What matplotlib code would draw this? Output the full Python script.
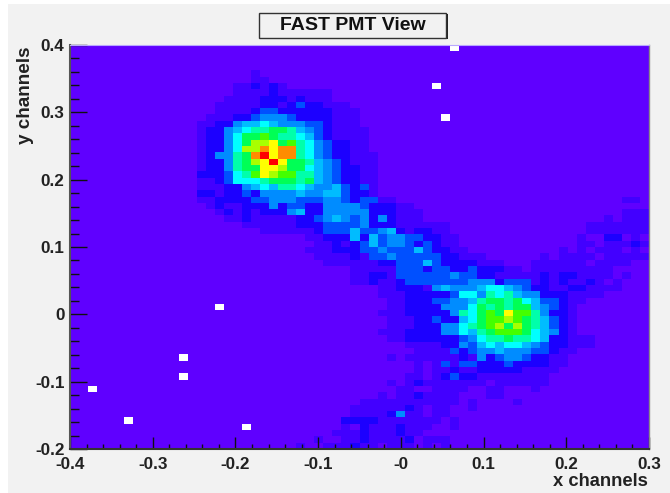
import numpy as np
import matplotlib
matplotlib.use('Agg')
import matplotlib.pyplot as plt
from matplotlib.colors import ListedColormap
from matplotlib.patches import Rectangle
from matplotlib.ticker import MultipleLocator

plt.rcParams['font.family'] = ['Liberation Sans', 'DejaVu Sans']
plt.rcParams['font.weight'] = 'bold'

# hist cells, top row first, hex level per bin, 0 = empty, short rows are padded with level 1
counts_rows = [
    "1111111111 1111111111 1111111111 1111111111 1101111111",
    "",
    "",
    "",
    "1111111111 1111111111 2111111111",
    "1111111111 1111111111 2211111111",
    "1111111111 1111111122 3232111111 1111111111 0111111111",
    "1111111111 1111111122 2232222221",
    "1111111111 1111111222 2333232221",
    "1111111111 1111112222 2332343322 2111111111",
    "1111111111 1111112222 3443333332 2211111111",
    "1111111111 1111122233 4555433332 2211111111 1011111111",
    "1111111111 1111223356 6765554432 2211111111",
    "1111111111 1111233567 8899865432 2221111111",
    "1111111111 1111233579 9A98876432 2221111111",
    "1111111111 1111233579 BBC9A87543 3221111111",
    "1111111111 111123357B BDCDD87543 3221111111",
    "1111111111 1111235589 DECDD87543 3222111111",
    "1111111111 1111233589 BCEC998654 3222111111",
    "1111111111 1111233589 9CCB997654 3322111111",
    "1111111111 1111333478 ACBAA88654 3322111111",
    "1111111111 1111223477 7899989654 3322111111",
    "1111111111 1111222335 6768876556 4342111111",
    "1111111111 1111332334 3555565566 4332111111",
    "1111111111 1111223333 4455544455 4344221111 1111111111 1111111111 1221",
    "1111111111 1111123223 3353443355 5543332211",
    "1111111111 1111112323 2333563355 5553332221 1111111111 1111111111 1222",
    "1111111111 1111111223 2222233456 5453532221 1111111111 1111111112 1222",
    "1111111111 1111111112 2222233344 4453332222 2211111111 1111111222 2222",
    "1111111111 1111111111 1222222344 4644563233 2211111111 1111111222 2222",
    "1111111111 1111111111 1111112233 3636455443 3221111111 1111112113 3121",
    "1111111111 1111111111 1111111223 2346455434 3221111111 1111112212 2232",
    "1111111111 1111111111 1111112223 3344544464 3322111111 1111212122 2121",
    "1111111111 1111111111 1111111222 2324454444 4332221111 1121222212 2222",
    "1111111111 1111111111 1111111122 2222334446 4333322211 1222222122 2211",
    "1111111111 1111111111 1111111111 1222224443 4433433322 1222222222 1111",
    "1111111111 1111111111 1111111111 1223324444 4454433222 2232332222 1211",
    "1111111111 1111111111 1111111111 1223223444 4444555344 4232322321 2111",
    "1111111111 1111111111 1111111111 1111223332 5655567765 4332233222 2111",
    "1111111111 1111111111 1111111111 1111222333 3347758786 5533322221",
    "1111111111 1111111111 1111111111 1111122333 4455689989 7644322111",
    "1111111111 1111110111 1111111111 1111122333 3555798989 9654321111",
    "1111111111 1111111111 1111111111 1111222333 335879A9CA A853321111",
    "1111111111 1111111111 1111111111 1111122233 433679AABA 9864321111",
    "1111111111 1111111111 1111111111 1111122233 355789AB9B 9864321111",
    "1111111111 1111111111 1111111111 1111222333 3557689AAA 9765321111",
    "1111111111 1111111111 1111111111 1111122333 3334578898 8763322211",
    "1111111111 1111111111 1111111111 1111111222 2335467677 6543322211",
    "1111111111 1111111111 1111111111 1111111122 2243455655 5443221111",
    "1111111111 1101111111 1111111111 1111121222 2223253455 4332211111",
    "1111111111 1111111111 1111111111 1111111121 2424433343 3332211111",
    "1111111111 1111111111 1111111111 1111111121 2232233333 2222111111",
    "1111111111 1101111111 1111111111 1111111221 2343322222 2221111111",
    "1111111111 1111111111 1111111111 1111121232 2222221222 2221111111",
    "1101111111 1111111111 1111111111 1111112211 2222112211 1211111111",
    "1111111111 1111111111 1111111111 1111212232 2221112211",
    "1111111111 1111111111 1111111111 1122222222 2221211112",
    "1111111111 1111111111 1111111111 1222222321 2211211111",
    "1111111111 1111111111 1111111111 1222235221 2211111111",
    "1111110111 1111111111 1111111111 3333222222 2121111111",
    "1111111111 1111111110 1111111111 2132223222 1121111111",
    "1111111111 1111111111 1111111112 2232223221",
    "1111111111 1111111111 1111111211 2232222312 2211111111",
    "1111111111 1111111111 1111121122 2322122212 1211111111",
]
level_colors = ['#ffffff', '#5f00ff', '#4200ff', '#1c00ff', '#0050ff', '#008cff', '#00bcff',
                '#00ffff', '#00ffaa', '#00ff55', '#44ff00', '#a8ff00', '#ffff00', '#ff8c00', '#ff0000']
x_ticks = [-0.4, -0.3, -0.2, -0.1, 0, 0.1, 0.2, 0.3]
x_labels = ['-0.4', '-0.3', '-0.2', '-0.1', '-0', '0.1', '0.2', '0.3']
y_ticks = [-0.2, -0.1, 0, 0.1, 0.2, 0.3, 0.4]
y_labels = ['-0.2', '-0.1', '0', '0.1', '0.2', '0.3', '0.4']

counts = np.array([[int(c, 16) for c in r.replace(' ', '').ljust(64, '1')] for r in counts_rows])
x_edges = np.linspace(-0.4, 0.3, 65)
y_edges = np.linspace(0.4, -0.2, 65)

W, H = 670, 493
fig = plt.figure(figsize=(W / 100, H / 100), dpi=100, facecolor='white')

# grey canvas, the screenshot has a small white strip at left and top
fig.add_artist(Rectangle((8 / W, 0), (W - 8) / W, (H - 4) / H, transform=fig.transFigure,
                         facecolor='#f2f2f2', edgecolor='none', zorder=-5))

ax = fig.add_axes([70 / W, 1 - 449 / H, 579 / W, 404 / H])
ax.pcolormesh(x_edges, y_edges, counts, cmap=ListedColormap(level_colors), vmin=-0.5, vmax=14.5)
ax.set_xlim(-0.4, 0.3)
ax.set_ylim(-0.2, 0.4)

ax.set_xticks(x_ticks)
ax.set_xticklabels(x_labels, fontsize=12.3, fontweight='bold', color='#222222')
ax.set_yticks(y_ticks)
ax.set_yticklabels(y_labels, fontsize=12.3, fontweight='bold', color='#222222')
ax.xaxis.set_minor_locator(MultipleLocator(0.02))
ax.yaxis.set_minor_locator(MultipleLocator(0.02))
ax.tick_params(axis='x', which='major', direction='in', length=8.5, width=1, pad=6, color='#111111')
ax.tick_params(axis='x', which='minor', direction='in', length=3.8, width=1, color='#111111')
ax.tick_params(axis='y', which='major', direction='in', length=12.5, width=1, pad=4, color='#111111')
ax.tick_params(axis='y', which='minor', direction='in', length=6.3, width=1, color='#111111')

ax.spines['left'].set_color('#555555')
ax.spines['left'].set_linewidth(1.5)
ax.spines['bottom'].set_color('#333333')
ax.spines['bottom'].set_linewidth(1.5)
ax.spines['right'].set_color('#888888')
ax.spines['right'].set_linewidth(1)
ax.spines['top'].set_color('#b9a8ff')
ax.spines['top'].set_linewidth(0.8)

fig.text(648 / W, 1 - 482 / H, 'x channels', ha='right', va='center', fontsize=13.2, fontweight='bold', color='#222222')
fig.text(26 / W, 1 - 46 / H, 'y channels', ha='center', va='top', rotation=90, fontsize=13.6, fontweight='bold', color='#222222')

# title box with ROOT style shadow
fig.add_artist(Rectangle((260 / W, 1 - 39 / H), 188 / W, 25 / H, transform=fig.transFigure,
                         facecolor='#222222', edgecolor='none'))
fig.add_artist(Rectangle((259 / W, 1 - 38 / H), 187 / W, 25 / H, transform=fig.transFigure,
                         facecolor='#f2f2f2', edgecolor='#333333', linewidth=1))
fig.text(353 / W, 1 - 25 / H, 'FAST PMT View', ha='center', va='center', fontsize=14, fontweight='bold', color='#111111')

fig.savefig('out.png', dpi=100, facecolor=fig.get_facecolor())
